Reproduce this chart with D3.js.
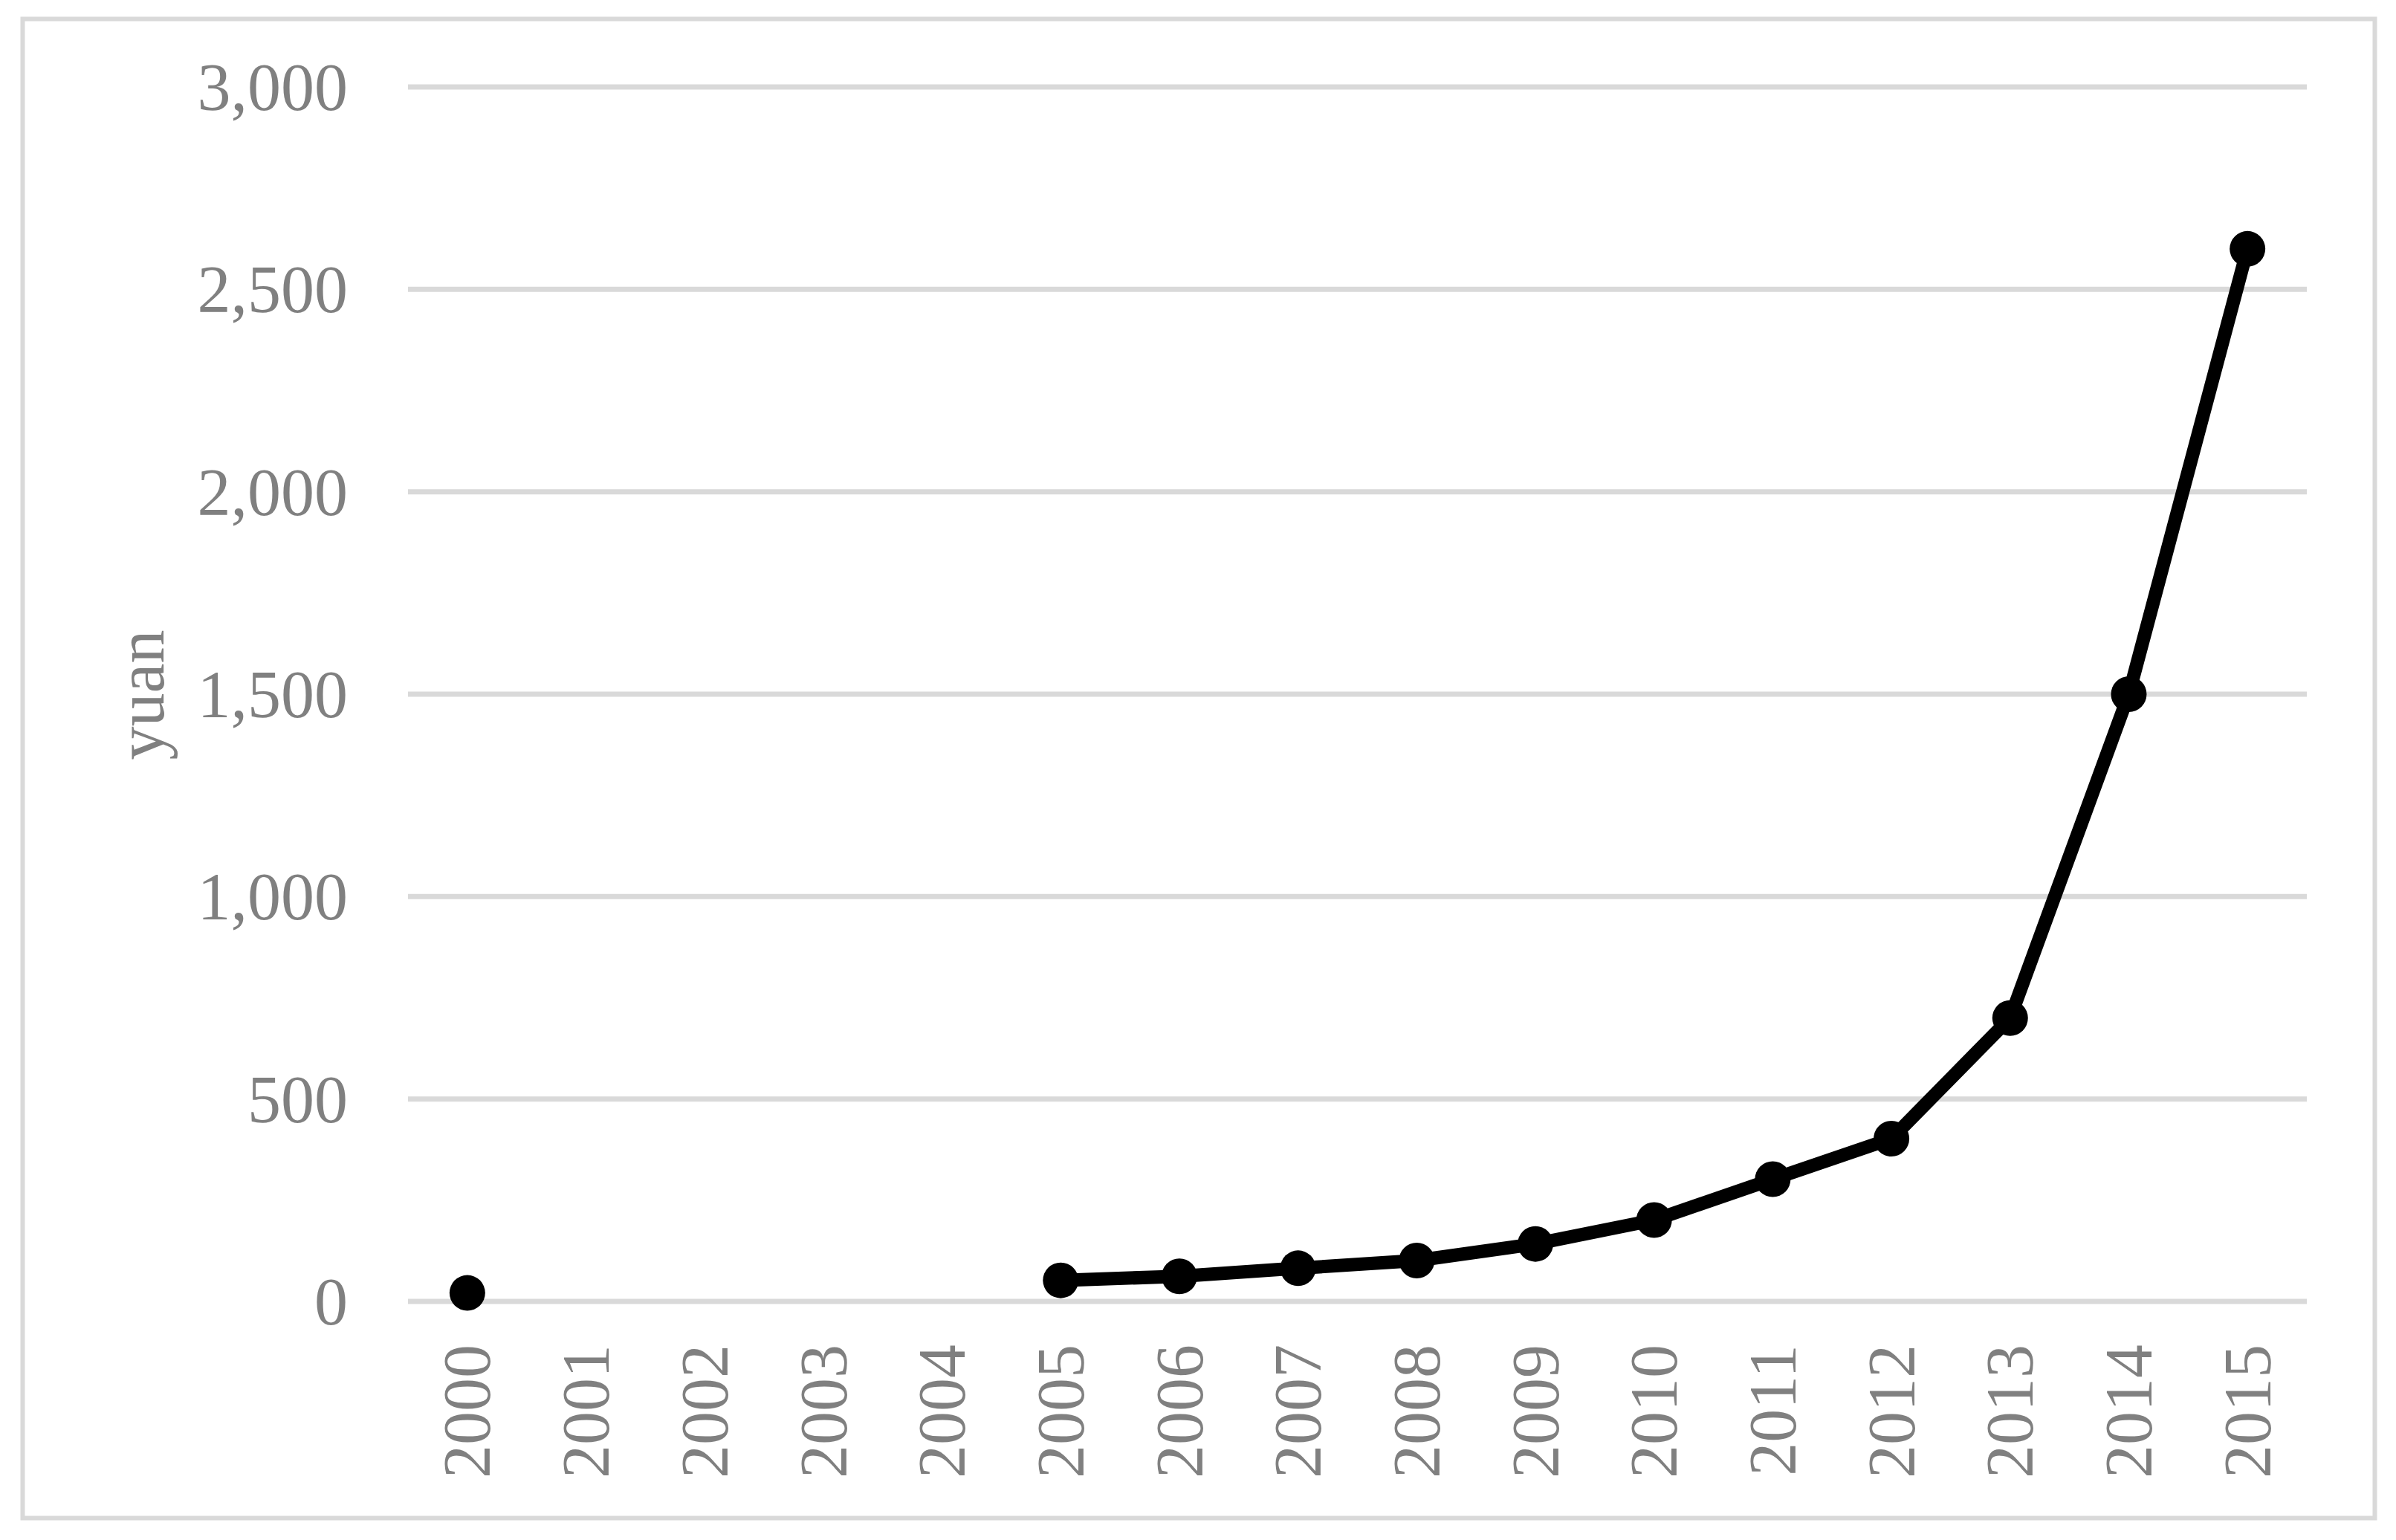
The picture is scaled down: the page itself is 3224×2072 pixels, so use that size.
<!DOCTYPE html>
<html>
<head>
<meta charset="utf-8">
<script src="https://cdn.jsdelivr.net/npm/d3@7/dist/d3.min.js"></script>
<style>
  html, body { margin: 0; padding: 0; background: #ffffff; }
  svg { display: block; }
</style>
</head>
<body>
<script>
// ---- data ----
const years = ["2000","2001","2002","2003","2004","2005","2006","2007","2008","2009","2010","2011","2012","2013","2014","2015"];
const values = [21, null, null, null, null, 52, 62, 82, 101, 142, 201, 302, 402, 700, 1500, 2600];
const yTicks = [0, 500, 1000, 1500, 2000, 2500, 3000];
const yTitle = "yuan";

// ---- layout ----
const W = 3224, H = 2072;
const plot = { left: 549, right: 3104, top: 117, bottom: 1751 };
const font = "'Liberation Serif', 'Times New Roman', serif";
const grey = "#808080";
const gridColor = "#d9d9d9";

const svg = d3.select("body").append("svg")
  .attr("width", W).attr("height", H)
  .attr("viewBox", `0 0 ${W} ${H}`);

svg.append("rect")
  .attr("x", 30.5).attr("y", 25.5)
  .attr("width", 3165).attr("height", 2017)
  .attr("fill", "#ffffff")
  .attr("stroke", gridColor).attr("stroke-width", 6);

const x = d3.scaleBand().domain(years).range([plot.left, plot.right]);
const y = d3.scaleLinear().domain([0, 3000]).range([plot.bottom, plot.top]);
const cx = d => x(d) + x.bandwidth() / 2;

// gridlines
svg.append("g").selectAll("line").data(yTicks).join("line")
  .attr("x1", plot.left).attr("x2", plot.right)
  .attr("y1", d => y(d)).attr("y2", d => y(d))
  .attr("stroke", gridColor).attr("stroke-width", 7);

// y axis labels
const yAxis = d3.axisLeft(y).tickValues(yTicks).tickFormat(d3.format(",")).tickSize(0).tickPadding(0);
const yg = svg.append("g").attr("transform", `translate(468,0)`).call(yAxis);
yg.select(".domain").remove();
yg.selectAll("text")
  .attr("font-family", font).attr("font-size", 90)
  .attr("fill", grey).attr("dy", "0.34em");

// x axis labels
const xAxis = d3.axisBottom(x).tickSize(0).tickPadding(0);
const xg = svg.append("g").attr("transform", `translate(0,${plot.bottom})`).call(xAxis);
xg.select(".domain").remove();
xg.selectAll("text")
  .attr("font-family", font).attr("font-size", 90)
  .attr("fill", grey)
  .attr("text-anchor", "end")
  .attr("transform", "translate(0,58) rotate(-90)")
  .attr("x", 0).attr("y", 0)
  .attr("dy", "0.34em");

// y title
svg.append("text")
  .attr("transform", `translate(220,935) rotate(-90)`)
  .attr("text-anchor", "middle")
  .attr("font-family", font).attr("font-size", 90)
  .attr("fill", grey)
  .text(yTitle);

// line
const pts = years.map((yr, i) => ({ yr, v: values[i] }));
const line = d3.line()
  .defined(d => d.v != null)
  .x(d => cx(d.yr)).y(d => y(d.v));
svg.append("path")
  .datum(pts)
  .attr("d", line)
  .attr("fill", "none")
  .attr("stroke", "#000000")
  .attr("stroke-width", 18)
  .attr("stroke-linejoin", "round");

// markers
svg.append("g").selectAll("circle").data(pts.filter(d => d.v != null)).join("circle")
  .attr("cx", d => cx(d.yr)).attr("cy", d => y(d.v))
  .attr("r", 24).attr("fill", "#000000");
</script>
</body>
</html>
